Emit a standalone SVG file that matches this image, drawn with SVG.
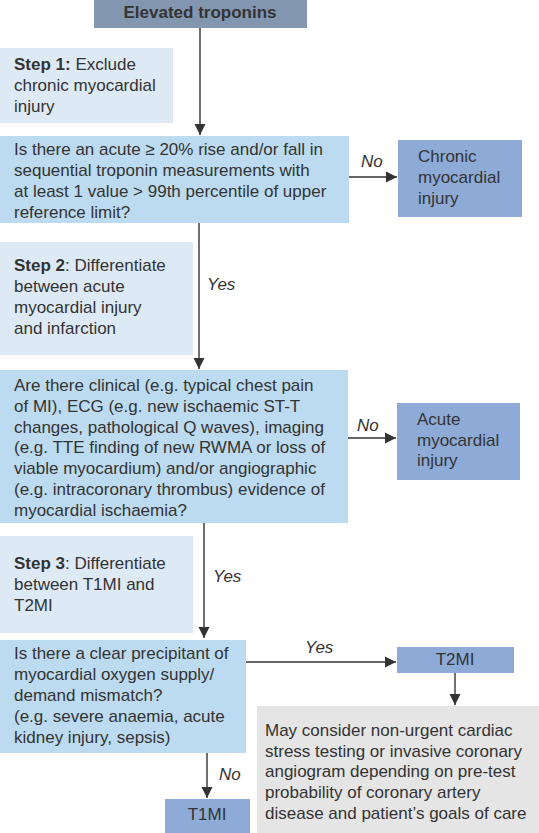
<svg xmlns="http://www.w3.org/2000/svg" width="539" height="833" viewBox="0 0 539 833">
<style>
text{font-family:"Liberation Sans",Arial,sans-serif;font-size:17px;fill:#333}
.b{font-weight:bold}
.i{font-style:italic}
.c{text-anchor:middle}
.top{fill:#8296b0}
.step{fill:#ddeaf6}
.q{fill:#bddbf0}
.out{fill:#8eabd7}
.note{fill:#e5e5e5}
.ln{stroke:#333;stroke-width:1.4;fill:none;marker-end:url(#ah)}
</style>
<defs>
<marker id="ah" markerUnits="userSpaceOnUse" markerWidth="12" markerHeight="12" viewBox="0 0 12 12" refX="11" refY="6" orient="auto">
<path d="M0,0.5 L11,6 L0,11.5 Z" fill="#333"/>
</marker>
</defs>
<g id="start">
<rect class="top" x="94" y="0" width="213" height="28"/>
<text class="b c" x="200" y="18">Elevated troponins</text>
</g>
<g id="step1">
<rect class="step" x="0" y="48" width="173" height="75"/>
<text x="14" y="69.5"><tspan class="b">Step 1:</tspan> Exclude</text>
<text x="14" y="90.5">chronic myocardial</text>
<text x="14" y="111.5">injury</text>
</g>
<g id="q1">
<rect class="q" x="0" y="136" width="349" height="87"/>
<text x="14" y="155">Is there an acute ≥ 20% rise and/or fall in</text>
<text x="14" y="176">sequential troponin measurements with</text>
<text x="14" y="197">at least 1 value &gt; 99th percentile of upper</text>
<text x="14" y="218">reference limit?</text>
</g>
<g id="chronic">
<rect class="out" x="398" y="140" width="124" height="77"/>
<text x="418" y="162">Chronic</text>
<text x="418" y="183">myocardial</text>
<text x="418" y="204">injury</text>
</g>
<g id="step2">
<rect class="step" x="0" y="242" width="193" height="113"/>
<text x="14" y="271"><tspan class="b">Step 2</tspan>: Differentiate</text>
<text x="14" y="292">between acute</text>
<text x="14" y="313">myocardial injury</text>
<text x="14" y="334">and infarction</text>
</g>
<g id="q2">
<rect class="q" x="0" y="370" width="348" height="153"/>
<text x="14" y="391">Are there clinical (e.g. typical chest pain</text>
<text x="14" y="412">of MI), ECG (e.g. new ischaemic ST-T</text>
<text x="14" y="432.6">changes, pathological Q waves), imaging</text>
<text x="14" y="453.4">(e.g. TTE finding of new RWMA or loss of</text>
<text x="14" y="474">viable myocardium) and/or angiographic</text>
<text x="14" y="495">(e.g. intracoronary thrombus) evidence of</text>
<text x="14" y="516">myocardial ischaemia?</text>
</g>
<g id="acute">
<rect class="out" x="397" y="403" width="123" height="77"/>
<text x="417" y="425">Acute</text>
<text x="417" y="446">myocardial</text>
<text x="417" y="466">injury</text>
</g>
<g id="step3">
<rect class="step" x="0" y="536" width="193" height="97"/>
<text x="14" y="569"><tspan class="b">Step 3</tspan>: Differentiate</text>
<text x="14" y="590">between T1MI and</text>
<text x="14" y="611">T2MI</text>
</g>
<g id="q3">
<rect class="q" x="0" y="640" width="246" height="113"/>
<text x="14" y="659">Is there a clear precipitant of</text>
<text x="14" y="680">myocardial oxygen supply/</text>
<text x="14" y="701">demand mismatch?</text>
<text x="14" y="722">(e.g. severe anaemia, acute</text>
<text x="14" y="743">kidney injury, sepsis)</text>
</g>
<g id="t2mi">
<rect class="out" x="397" y="647" width="117" height="26"/>
<text class="c" x="455" y="665">T2MI</text>
</g>
<g id="note">
<rect class="note" x="257" y="706" width="282" height="127"/>
<text x="265" y="736">May consider non-urgent cardiac</text>
<text x="265" y="757">stress testing or invasive coronary</text>
<text x="265" y="777">angiogram depending on pre-test</text>
<text x="265" y="798">probability of coronary artery</text>
<text x="265" y="819">disease and patient’s goals of care</text>
</g>
<g id="t1mi">
<rect class="out" x="165" y="799" width="85" height="34"/>
<text class="c" x="207" y="820">T1MI</text>
</g>
<g id="connectors">
<line class="ln" x1="200" y1="28" x2="200" y2="135"/>
<line class="ln" x1="349" y1="177" x2="397" y2="177"/>
<text class="i" x="361" y="167">No</text>
<line class="ln" x1="199" y1="223" x2="199" y2="369"/>
<text class="i" x="207" y="290">Yes</text>
<line class="ln" x1="348" y1="438" x2="396" y2="438"/>
<text class="i" x="357" y="431">No</text>
<line class="ln" x1="204" y1="523" x2="204" y2="638"/>
<text class="i" x="213" y="582">Yes</text>
<line class="ln" x1="246" y1="662" x2="396" y2="662"/>
<text class="i" x="305" y="653">Yes</text>
<line class="ln" x1="455" y1="673" x2="455" y2="705"/>
<line class="ln" x1="207" y1="753" x2="207" y2="798"/>
<text class="i" x="219" y="780">No</text>
</g>
</svg>
